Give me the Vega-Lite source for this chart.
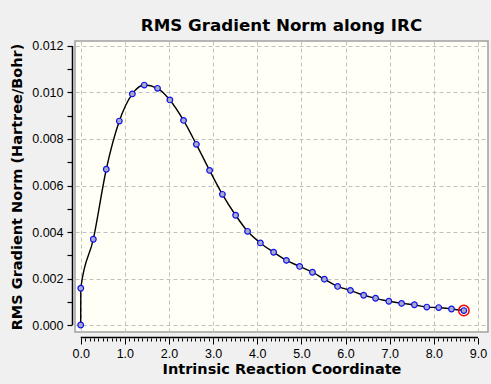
{
  "$schema": "https://vega.github.io/schema/vega-lite/v6.json",
  "width": 413,
  "height": 291,
  "autosize": {"type": "none"},
  "padding": {"left": 75, "top": 41, "right": 3, "bottom": 52},
  "background": "#F0F0F0",
  "config": {
    "font": "Liberation Sans",
    "view": {"fill": "#FFFFF5", "stroke": "#A0A0A0", "strokeWidth": 1.5},
    "axis": {"labelFont": "Liberation Sans", "titleFont": "DejaVu Sans"}
  },
  "title": {
    "text": "RMS Gradient Norm along IRC",
    "font": "DejaVu Sans",
    "fontSize": 16.7,
    "fontWeight": "bold",
    "color": "#000000",
    "anchor": "middle",
    "offset": 5
  },
  "datasets": {
    "irc": [
      {"i": 0, "irc": 0.0, "grad": 0.0},
      {"i": 1, "irc": 0.002, "grad": 0.00158},
      {"i": 2, "irc": 0.286, "grad": 0.00369},
      {"i": 3, "irc": 0.58, "grad": 0.0067},
      {"i": 4, "irc": 0.875, "grad": 0.00877},
      {"i": 5, "irc": 1.17, "grad": 0.00994},
      {"i": 6, "irc": 1.44, "grad": 0.01032},
      {"i": 7, "irc": 1.74, "grad": 0.01018},
      {"i": 8, "irc": 2.02, "grad": 0.00968},
      {"i": 9, "irc": 2.33, "grad": 0.0088},
      {"i": 10, "irc": 2.62, "grad": 0.00777},
      {"i": 11, "irc": 2.92, "grad": 0.00665},
      {"i": 12, "irc": 3.21, "grad": 0.00562},
      {"i": 13, "irc": 3.51, "grad": 0.00472},
      {"i": 14, "irc": 3.78, "grad": 0.00403},
      {"i": 15, "irc": 4.07, "grad": 0.00353},
      {"i": 16, "irc": 4.37, "grad": 0.00313},
      {"i": 17, "irc": 4.66, "grad": 0.00278},
      {"i": 18, "irc": 4.96, "grad": 0.00252},
      {"i": 19, "irc": 5.25, "grad": 0.00227},
      {"i": 20, "irc": 5.52, "grad": 0.00197},
      {"i": 21, "irc": 5.82, "grad": 0.00166},
      {"i": 22, "irc": 6.11, "grad": 0.00149},
      {"i": 23, "irc": 6.41, "grad": 0.00128},
      {"i": 24, "irc": 6.68, "grad": 0.00115},
      {"i": 25, "irc": 6.98, "grad": 0.00102},
      {"i": 26, "irc": 7.27, "grad": 0.00093},
      {"i": 27, "irc": 7.56, "grad": 0.00087},
      {"i": 28, "irc": 7.84, "grad": 0.00077},
      {"i": 29, "irc": 8.11, "grad": 0.00075},
      {"i": 30, "irc": 8.4, "grad": 0.00069},
      {"i": 31, "irc": 8.68, "grad": 0.00062}
    ],
    "xaxisline": [{"x0": 0, "x1": 9, "y": -0.000538}],
    "yaxisline": [{"x": -0.186, "y0": 0, "y1": 0.012}]
  },
  "resolve": {"axis": {"x": "independent", "y": "independent"}},
  "layer": [
    {
      "data": {"name": "xaxisline"},
      "mark": {"type": "rule", "color": "#000000", "strokeWidth": 1.5, "clip": false},
      "encoding": {
        "x": {"field": "x0", "type": "quantitative", "scale": {"domain": [-0.129, 9.227], "nice": false, "zero": false},
          "axis": {"orient": "bottom", "offset": 6, "values": [0,0.1,0.2,0.3,0.4,0.5,0.6,0.7,0.8,0.9,1,1.1,1.2,1.3,1.4,1.5,1.6,1.7,1.8,1.9,2,2.1,2.2,2.3,2.4,2.5,2.6,2.7,2.8,2.9,3,3.1,3.2,3.3,3.4,3.5,3.6,3.7,3.8,3.9,4,4.1,4.2,4.3,4.4,4.5,4.6,4.7,4.8,4.9,5,5.1,5.2,5.3,5.4,5.5,5.6,5.7,5.8,5.9,6,6.1,6.2,6.3,6.4,6.5,6.6,6.7,6.8,6.9,7,7.1,7.2,7.3,7.4,7.5,7.6,7.7,7.8,7.9,8,8.1,8.2,8.3,8.4,8.5,8.6,8.7,8.8,8.9,9],
            "labels": false, "domain": false, "grid": false, "title": null, "tickSize": 3, "tickColor": "#000000", "tickWidth": 1}},
        "x2": {"field": "x1"},
        "y": {"field": "y", "type": "quantitative", "scale": {"domain": [-0.000301, 0.012215], "nice": false, "zero": false}, "axis": null}
      }
    },
    {
      "data": {"name": "yaxisline"},
      "mark": {"type": "rule", "color": "#000000", "strokeWidth": 1.5, "clip": false},
      "encoding": {
        "x": {"field": "x", "type": "quantitative", "axis": null},
        "y": {"field": "y0", "type": "quantitative",
          "axis": {"orient": "left", "offset": 3, "values": [0,0.002,0.004,0.006,0.008,0.01,0.012],
            "format": ".3f", "domain": false, "grid": true, "gridColor": "#C0C0C0", "gridDash": [4, 3], "gridWidth": 1,
            "tickSize": 5, "tickColor": "#000000", "tickWidth": 1.2, "labelFontSize": 12.5, "labelColor": "#000000", "labelPadding": 4,
            "title": "RMS Gradient Norm (Hartree/Bohr)", "titleFontSize": 14.5, "titleFontWeight": "bold", "titleColor": "#000000", "titlePadding": 7}},
        "y2": {"field": "y1"}
      }
    },
    {
      "data": {"name": "irc"},
      "mark": {"type": "line", "color": "#000000", "strokeWidth": 1.4, "interpolate": "monotone"},
      "encoding": {
        "x": {"field": "irc", "type": "quantitative",
          "axis": {"orient": "bottom", "offset": 6, "values": [0,1,2,3,4,5,6,7,8,9], "format": ".1f", "domain": false,
            "grid": true, "gridColor": "#C0C0C0", "gridDash": [4, 3], "gridWidth": 1,
            "tickSize": 6, "tickColor": "#000000", "tickWidth": 1, "labelFontSize": 12.5, "labelColor": "#000000", "labelPadding": 3,
            "title": "Intrinsic Reaction Coordinate", "titleFontSize": 14.5, "titleFontWeight": "bold", "titleColor": "#000000", "titlePadding": 3}},
        "y": {"field": "grad", "type": "quantitative",
          "axis": {"orient": "left", "offset": 3, "values": [0.001,0.003,0.005,0.007,0.009,0.011], "labels": false, "domain": false, "grid": false, "title": null, "tickSize": 5, "tickColor": "#000000", "tickWidth": 1.2}},
        "order": {"field": "i"}
      }
    },
    {
      "data": {"name": "irc"},
      "mark": {"type": "point", "shape": "circle", "filled": true, "fill": "#A8ACC8", "stroke": "#1010F0", "strokeWidth": 1.2, "size": 32, "opacity": 1},
      "encoding": {
        "x": {"field": "irc", "type": "quantitative", "axis": null},
        "y": {"field": "grad", "type": "quantitative", "axis": null}
      }
    },
    {
      "data": {"name": "irc"},
      "transform": [{"filter": "datum.i == 31"}],
      "mark": {"type": "point", "shape": "circle", "filled": false, "stroke": "#FF0000", "strokeWidth": 1.5, "size": 110, "opacity": 1},
      "encoding": {
        "x": {"field": "irc", "type": "quantitative", "axis": null},
        "y": {"field": "grad", "type": "quantitative", "axis": null}
      }
    }
  ]
}
